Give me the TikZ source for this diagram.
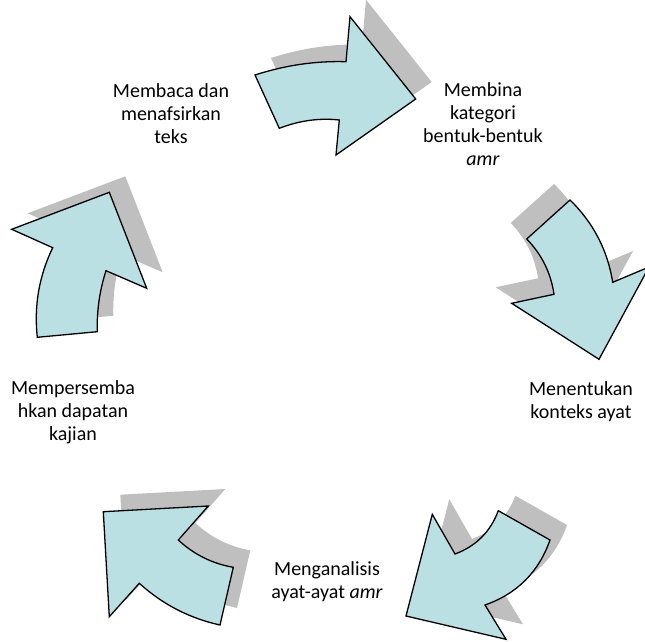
\documentclass[tikz,border=0pt]{standalone}
\usepackage{fontspec}
\setmainfont{Carlito}
\usetikzlibrary{calc}
\definecolor{arrowfill}{RGB}{186,224,228}
\definecolor{shadowgrey}{RGB}{191,191,191}
\tikzset{
  arrowshape/.style={fill=arrowfill, draw=black, line width=1.3pt, line join=miter},
  arrowshadow/.style={fill=shadowgrey},
  lbl/.style={align=center, font=\fontsize{20}{23}\selectfont, inner sep=0pt}
}
% quadratic curve helper: \qc{p0}{c}{p2}
\newcommand{\qc}[3]{.. controls ($(#1)!0.6667!(#2)$) and ($(#3)!0.6667!(#2)$) .. (#3)}
\newcommand{\ArrowA}[1]{\path[#1] (279.3,128.3) -- (255,75) \qc{255,75}{300.5,60.3}{346,61.7} -- (350,16.7) -- (415.7,99) -- (336,155) -- (339.3,120) \qc{339.3,120}{309.3,116.7}{279.3,128.3} -- cycle;}
\newcommand{\ArrowB}[1]{\path[#1] (570,200) -- (526.7,239) \qc{526.7,239}{549.3,262.2}{554,294.3} -- (511.7,303.3) -- (599,359.3) -- (649,267) -- (612.7,282.3) \qc{612.7,282.3}{605,234.1}{570,200} -- cycle;}
\newcommand{\ArrowC}[1]{\path[#1] (498.3,510.7) -- (550,540) \qc{550,540}{533.1,588.1}{485,605} -- (506,639.3) -- (406,616) -- (432.3,514.3) -- (455,554) \qc{455,554}{486.6,542.2}{498.3,510.7} -- cycle;}
\newcommand{\ArrowD}[1]{\path[#1] (233.3,567.3) -- (220,625) \qc{220,625}{174.2,614.9}{139.3,583.3} -- (109.3,616.7) -- (103.3,511.7) -- (208.3,506) -- (178.3,540) \qc{178.3,540}{201.8,561.8}{233.3,567.3} -- cycle;}
\newcommand{\ArrowE}[1]{\path[#1] (37.3,337.3) -- (97.3,331.7) \qc{97.3,331.7}{96.4,300.4}{106,270.7} -- (146.7,288.3) -- (109.3,192.3) -- (11.7,229.3) -- (52.7,247.7) \qc{52.7,247.7}{32.2,290.3}{37.3,337.3} -- cycle;}
\begin{document}
\begin{tikzpicture}[x=1pt,y=-1pt]
\useasboundingbox (0,0) rectangle (645,642);
\begin{scope}
\clip (0,0) rectangle (645,642);
\ArrowA{arrowshadow, shift={(16,-17)}}
\ArrowB{arrowshadow, shift={(-16,-16)}}
\ArrowC{arrowshadow, shift={(17,-15)}}
\ArrowD{arrowshadow, shift={(17,-17)}}
\ArrowE{arrowshadow, shift={(16,-16)}}
\ArrowA{arrowshape}
\ArrowB{arrowshape}
\ArrowC{arrowshape}
\ArrowD{arrowshape}
\ArrowE{arrowshape}
\end{scope}
\node[lbl] (l1) at (171,113.5) {Membaca dan\\menafsirkan\\teks};
\node[lbl] (l2) at (483,124) {Membina\\kategori\\bentuk-bentuk\\\textit{amr}};
\node[lbl] (l3) at (581,402) {Menentukan\\konteks ayat};
\node[lbl] (l4) at (327,582) {Menganalisis\\ayat-ayat \textit{amr}};
\node[lbl] (l5) at (73,412.5) {Mempersemba\\hkan dapatan\\kajian};
\end{tikzpicture}
\end{document}
